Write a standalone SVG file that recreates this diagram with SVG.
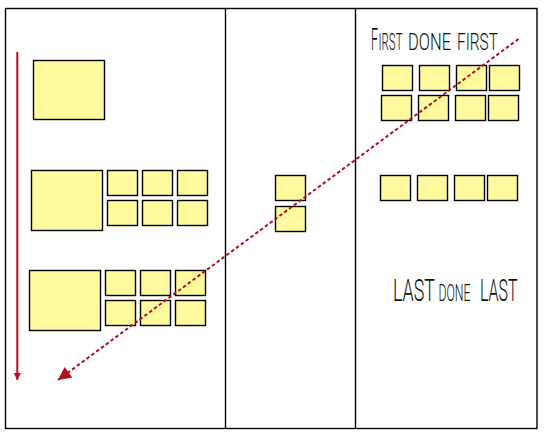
<svg xmlns="http://www.w3.org/2000/svg" width="548" height="440" viewBox="0 0 548 440">
<style>
.note{fill:#fffa9e;stroke:#000;stroke-width:1.4}
.frame{fill:none;stroke:#000;stroke-width:1.4}
.lbl{font-family:Roboto,"Liberation Sans",Arial,sans-serif;font-weight:300;fill:#111}
.big{font-size:31px}
.sm{font-size:24.5px}
.flow{fill:none;stroke:#b01020;stroke-width:2}
</style>
<defs>
<marker id="ahV" viewBox="0 0 10 10" refX="10" refY="5" markerWidth="12" markerHeight="7" markerUnits="userSpaceOnUse" orient="auto"><path d="M0,0L10,5L0,10z" fill="#b01020"/></marker>
<marker id="ahD" viewBox="0 0 10 10" refX="10" refY="5" markerWidth="15" markerHeight="13" markerUnits="userSpaceOnUse" orient="auto"><path d="M0,0L10,5L0,10z" fill="#b01020"/></marker>
</defs>
<rect width="548" height="440" fill="#fff"/>
<g id="board">
<rect class="frame" x="5.5" y="8.5" width="531.5" height="420"/>
<line class="frame" x1="225.5" y1="8.5" x2="225.5" y2="428.5"/>
<line class="frame" x1="355.5" y1="8.5" x2="355.5" y2="428.5"/>
</g>
<g id="col1">
<rect id="big1" class="note" x="33.5" y="60.5" width="71" height="59"/>
<rect id="big2" class="note" x="31.5" y="170.5" width="71" height="60"/>
<rect id="n2a" class="note" x="107.5" y="170.5" width="30" height="25"/>
<rect id="n2b" class="note" x="142.5" y="170.5" width="30" height="25"/>
<rect id="n2c" class="note" x="177.5" y="170.5" width="30" height="25"/>
<rect id="n2d" class="note" x="107.5" y="200.5" width="30" height="25"/>
<rect id="n2e" class="note" x="142.5" y="200.5" width="30" height="25"/>
<rect id="n2f" class="note" x="177.5" y="200.5" width="30" height="25"/>
<rect id="big3" class="note" x="29.5" y="270.5" width="71" height="60"/>
<rect id="n3a" class="note" x="105.5" y="270.5" width="30" height="25"/>
<rect id="n3b" class="note" x="140.5" y="270.5" width="30" height="25"/>
<rect id="n3c" class="note" x="175.5" y="270.5" width="30" height="25"/>
<rect id="n3d" class="note" x="105.5" y="300.5" width="30" height="25"/>
<rect id="n3e" class="note" x="140.5" y="300.5" width="30" height="25"/>
<rect id="n3f" class="note" x="175.5" y="300.5" width="30" height="25"/>
</g>
<g id="col2">
<rect id="m1" class="note" x="275.5" y="175.5" width="30" height="25"/>
<rect id="m2" class="note" x="275.5" y="206.5" width="30" height="25"/>
</g>
<g id="col3">
<rect id="r1a" class="note" x="382.5" y="65.5" width="30" height="25"/>
<rect id="r1b" class="note" x="419.5" y="65.5" width="30" height="25"/>
<rect id="r1c" class="note" x="456.5" y="65.5" width="30" height="25"/>
<rect id="r1d" class="note" x="489.5" y="65.5" width="30" height="25"/>
<rect id="r2a" class="note" x="381.5" y="95.5" width="30" height="25"/>
<rect id="r2b" class="note" x="418.5" y="95.5" width="30" height="25"/>
<rect id="r2c" class="note" x="455.5" y="95.5" width="30" height="25"/>
<rect id="r2d" class="note" x="488.5" y="95.5" width="30" height="25"/>
<rect id="r3a" class="note" x="380.5" y="175.5" width="30" height="25"/>
<rect id="r3b" class="note" x="417.5" y="175.5" width="30" height="25"/>
<rect id="r3c" class="note" x="454.5" y="175.5" width="30" height="25"/>
<rect id="r3d" class="note" x="487.5" y="175.5" width="30" height="25"/>
</g>
<g id="labels">
<text class="lbl" y="49.5"><tspan class="big" x="371" textLength="7" lengthAdjust="spacingAndGlyphs">F</tspan><tspan class="sm" x="378.5" textLength="24" lengthAdjust="spacingAndGlyphs">IRST</tspan><tspan class="sm" x="408" textLength="43" lengthAdjust="spacingAndGlyphs">DONE</tspan><tspan class="sm" x="457" textLength="41" lengthAdjust="spacingAndGlyphs">FIRST</tspan></text>
<text class="lbl" y="300.8"><tspan class="big" x="393" textLength="42" lengthAdjust="spacingAndGlyphs">LAST</tspan><tspan class="sm" x="438.5" textLength="32" lengthAdjust="spacingAndGlyphs">DONE</tspan><tspan class="big" x="480" textLength="37.5" lengthAdjust="spacingAndGlyphs">LAST</tspan></text>
</g>
<g id="connectors">
<line class="flow" x1="17.3" y1="52" x2="17.3" y2="380" marker-end="url(#ahV)"/>
<line class="flow" x1="518.5" y1="39" x2="58" y2="380" stroke-width="2.2" stroke-dasharray="3.5 2.5" marker-end="url(#ahD)"/>
</g>
</svg>
